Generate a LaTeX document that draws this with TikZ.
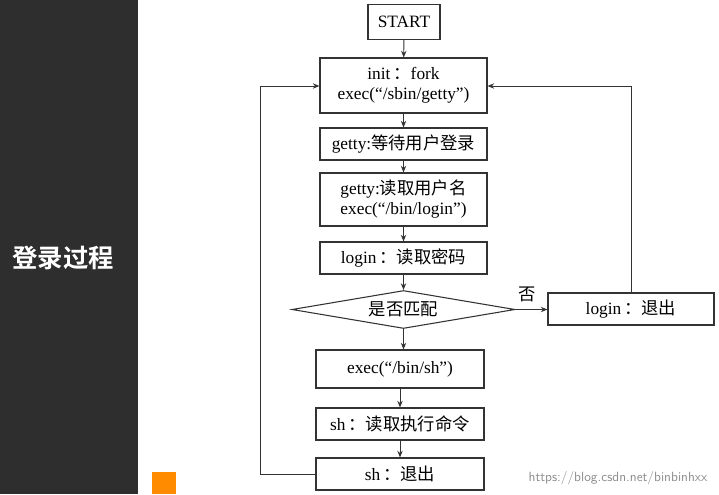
\documentclass[tikz,border=0pt]{standalone}
\usepackage{fontspec}
\setmainfont{Liberation Serif}
\newfontfamily\cjk{Noto Sans CJK SC}
\newfontfamily\cjkb{Noto Sans CJK SC Bold}
\usetikzlibrary{arrows.meta,shapes.geometric}
\begin{document}
\begin{tikzpicture}[x=0.75pt,y=-0.75pt,
  bx/.style={draw=black!80,line width=0.8pt,fill=white,minimum height=#1*0.75pt,inner sep=0pt,font=\fontsize{13}{15}\selectfont,align=center},
  bx/.default=32,
  ar/.style={-{Stealth[length=5pt,width=4pt]},line width=0.7pt,black!80}]
\useasboundingbox (0,0) rectangle (719,494);
\fill[white] (0,0) rectangle (719,494);
\fill[black!82] (0,0) rectangle (138,494);
\node[text=white,font=\cjkb\fontsize{19}{22}\selectfont] (title) at (63,258) {登录过程};
\fill[orange!90!yellow] (152,472) rectangle (176,494);
\node[text=black!45,font=\sffamily\fontsize{10}{12}\selectfont,anchor=east] (wm) at (712,478) {https://blog.csdn.net/binbinhxx};
\node[bx=35,minimum width=72*0.75pt] (start) at (404,22) {START};
\node[bx=55,minimum width=167*0.75pt] (init) at (403.5,85.5) {init\,{\cjk ：}fork\\exec(“/sbin/getty”)};
\node[bx=32,minimum width=167*0.75pt] (gw) at (403.5,144) {getty:{\cjk 等待用户登录}};
\node[bx=53,minimum width=167*0.75pt] (gr) at (403.5,199.5) {getty:{\cjk 读取用户名}\\exec(“/bin/login”)};
\node[bx=32,minimum width=167*0.75pt] (lp) at (403.5,258) {login\,{\cjk ：读取密码}};
\node[draw=black!80,line width=0.8pt,fill=white,diamond,aspect=6,minimum width=223*0.75pt,minimum height=38*0.75pt,inner sep=0pt,font=\cjk\fontsize{13}{15}\selectfont] (dm) at (403.5,309.5) {是否匹配};
\node[bx=32,minimum width=166*0.75pt] (le) at (631,309) {login\,{\cjk ：退出}};
\node[bx=38,minimum width=168*0.75pt] (es) at (400,369) {exec(“/bin/sh”)};
\node[bx=32,minimum width=168*0.75pt] (sr) at (400,424) {sh\,{\cjk ：读取执行命令}};
\node[bx=32,minimum width=168*0.75pt] (se) at (400,474) {sh\,{\cjk ：退出}};
\draw[ar] (start) -- (init);
\draw[ar] (init) -- (gw);
\draw[ar] (gw) -- (gr);
\draw[ar] (gr) -- (lp);
\draw[ar] (lp) -- (dm);
\draw[ar] (dm) -- (es.north -| dm.south);
\draw[ar] (es.south) -- (sr);
\draw[ar] (sr) -- (se);
\draw[ar] (dm.east) -- (le.west |- dm.east);
\node[font=\cjk\fontsize{13}{15}\selectfont] (no) at (527,294) {否};
\coordinate (l1) at (260,474);
\coordinate (l2) at (260,86);
\draw[ar] (se.west) -- (l1) -- (l2) -- (init.west |- l2);
\coordinate (r1) at (631,86);
\draw[ar] (le.north) -- (r1) -- (init.east |- r1);
\end{tikzpicture}
\end{document}
